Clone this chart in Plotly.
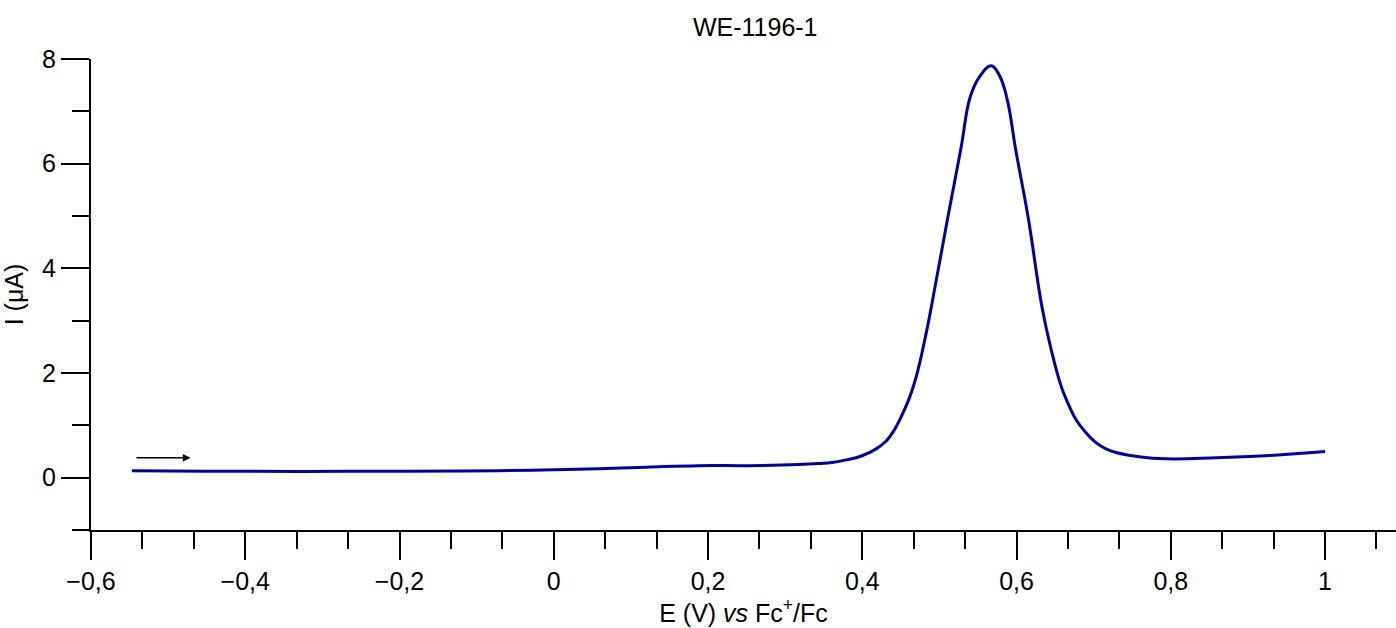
import plotly.graph_objects as go

# Data (E in V vs Fc+/Fc, I in µA)
potential_V = [-0.547, -0.45, -0.33, -0.20, -0.071, 0.0, 0.058, 0.120, 0.188, 0.253, 0.318,
               0.344, 0.361, 0.379, 0.396, 0.409, 0.418, 0.431, 0.441, 0.451, 0.461, 0.470, 0.482,
               0.490, 0.511, 0.528, 0.540, 0.552, 0.567, 0.578, 0.588, 0.599, 0.615,
               0.633, 0.645, 0.658, 0.667, 0.677, 0.690, 0.703, 0.716, 0.729, 0.759, 0.794,
               0.859, 0.923, 1.0]
current_uA = [0.134, 0.125, 0.12, 0.125, 0.134, 0.15, 0.17, 0.20, 0.23, 0.23, 0.25,
              0.27, 0.29, 0.34, 0.40, 0.48, 0.55, 0.70, 0.90, 1.18, 1.52, 1.93, 2.70,
              3.30, 4.98, 6.30, 7.28, 7.66, 7.87, 7.68, 7.22, 6.26, 4.98,
              3.26, 2.44, 1.74, 1.41, 1.11, 0.86, 0.67, 0.55, 0.48, 0.40, 0.36,
              0.38, 0.42, 0.50]

x_ticks = [-0.6, -0.4, -0.2, 0, 0.2, 0.4, 0.6, 0.8, 1.0]
x_tick_labels = ["\u22120,6", "\u22120,4", "\u22120,2", "0", "0,2", "0,4", "0,6", "0,8", "1"]
y_ticks = [0, 2, 4, 6, 8]
y_tick_labels = ["0", "2", "4", "6", "8"]

title_text = "WE-1196-1"
x_title = "E (V) <i>vs</i> Fc<sup>+</sup>/Fc"
y_title = "I (\u03bcA)"

FONT = "Liberation Sans, Arial, sans-serif"
FS = 25

fig = go.Figure()
fig.add_trace(go.Scatter(
    x=potential_V, y=current_uA, mode="lines",
    line=dict(color="#0000a8", width=3, shape="spline", smoothing=1.2),
    showlegend=False, hoverinfo="x+y",
))

fig.add_annotation(
    x=-0.471, y=0.38, ax=-0.543, ay=0.38, xref="x", yref="y", axref="x", ayref="y",
    showarrow=True, arrowhead=2, arrowsize=1.1, arrowwidth=1.4, arrowcolor="black", text="",
)

axis_common = dict(
    showgrid=False, zeroline=False, showline=True, linecolor="black", linewidth=2,
    ticks="outside", tickcolor="black", tickwidth=2, ticklen=28, automargin=False,
    tickfont=dict(family=FONT, size=FS, color="black"),
    title_font=dict(family=FONT, size=FS, color="black"),
)

fig.update_xaxes(
    range=[-0.6, 1.092], tickmode="array", tickvals=x_ticks, ticktext=x_tick_labels,
    minor=dict(ticks="outside", ticklen=17, tickwidth=2, tickcolor="black",
               dtick=0.2 / 3, tick0=0, showgrid=False),
    title=dict(text=x_title, standoff=2),
    **axis_common,
)
fig.update_yaxes(
    range=[-1, 8], tickmode="array", tickvals=y_ticks, ticktext=y_tick_labels,
    minor=dict(ticks="outside", ticklen=17, tickwidth=2, tickcolor="black",
               dtick=1, tick0=0, showgrid=False),
    title=dict(text=y_title, standoff=14),
    **axis_common,
)

fig.update_layout(
    width=1396, height=628,
    margin=dict(l=91, r=0, t=59, b=98),
    plot_bgcolor="white", paper_bgcolor="white",
    font=dict(family=FONT, size=FS, color="black"),
    title=dict(text=title_text, x=0.509, xref="paper", y=1 - 27 / 628, yref="container",
               xanchor="center", yanchor="middle",
               font=dict(family=FONT, size=FS, color="black")),
)

fig.write_html("out.html", config={"displayModeBar": False},
               post_script="document.body.style.margin='0';document.body.style.overflow='hidden';")
